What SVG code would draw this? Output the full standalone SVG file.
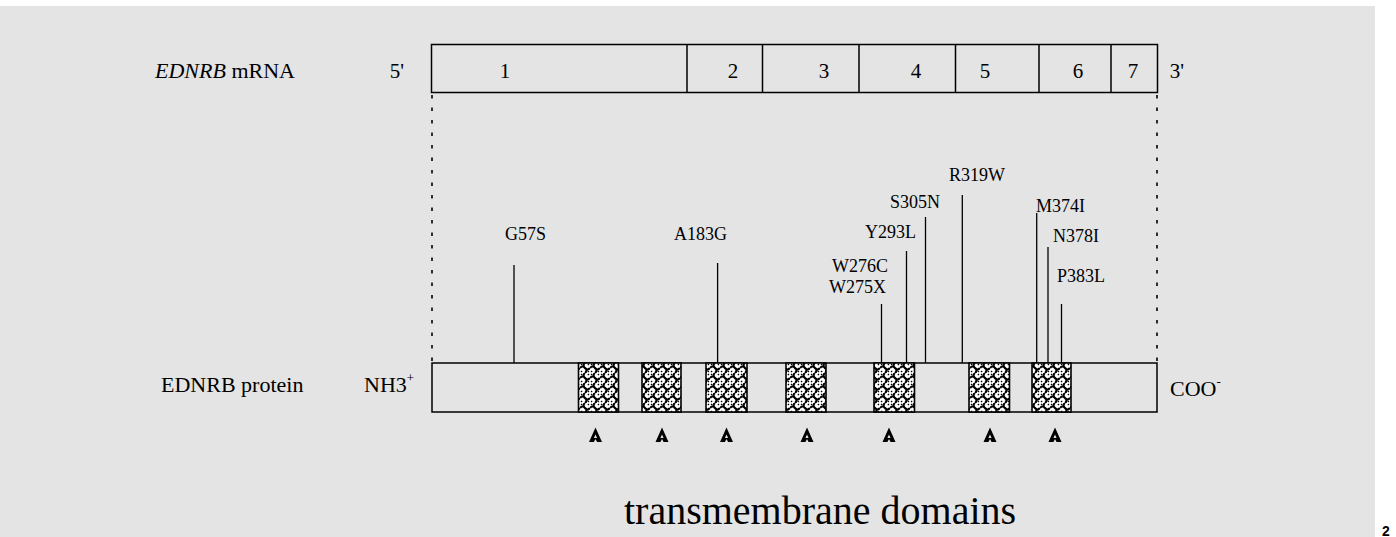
<svg xmlns="http://www.w3.org/2000/svg" width="1396" height="537" viewBox="0 0 1396 537">
<style>
.t{font-family:"Liberation Serif","Times New Roman",serif;fill:#000}
.lab{font-size:22px}
.ex{font-size:21px;text-anchor:middle}
.mut{font-size:18px}
.box{fill:none;stroke:#000;stroke-width:1.5}
.tm{fill:url(#hatch);stroke:#000;stroke-width:1.6}
.dot{stroke:#000;stroke-width:1.6;stroke-dasharray:3.5 9;fill:none}
.pin{stroke:#000;stroke-width:1.3}
</style>
<defs>
<pattern id="hatch" patternUnits="userSpaceOnUse" width="10" height="10" x="0" y="3">
<rect width="10" height="10" fill="#fff"/>
<path d="M0,5 Q2.5,2 5,5 T10,5 M5,0 Q2,2.5 5,5 T5,10" fill="none" stroke="#000" stroke-width="2.2"/>
<path d="M1,1 L2.2,2.2 M9,9 L7.8,7.8 M9,1 L7.8,2.2 M1,9 L2.2,7.8" stroke="#000" stroke-width="1.2"/>
</pattern>
<path id="arrow" d="M0,-7.5 L6.5,7 L1.6,7 L0,4 L-1.6,7 L-6.5,7 Z M0,-0.5 L1.6,3 L-1.6,3 Z" fill="#000" fill-rule="evenodd"/>
</defs>
<rect x="0" y="6" width="1375" height="531" fill="#e4e4e4"/>

<g id="mrna-label">
<text class="t lab" x="155" y="78"><tspan font-style="italic">EDNRB</tspan> mRNA</text>
<text class="t ex" x="397" y="78">5'</text>
<text class="t ex" x="1177" y="78">3'</text>
</g>

<g id="mrna">
<rect class="box" x="431.5" y="44.5" width="726" height="48"/>
<path d="M687,44.5V92.5 M762.5,44.5V92.5 M859,44.5V92.5 M955.5,44.5V92.5 M1039,44.5V92.5 M1111,44.5V92.5" stroke="#000" stroke-width="1.5"/>
<text class="t ex" x="505" y="78">1</text>
<text class="t ex" x="733" y="78">2</text>
<text class="t ex" x="824" y="78">3</text>
<text class="t ex" x="916" y="78">4</text>
<text class="t ex" x="985" y="78">5</text>
<text class="t ex" x="1078" y="78">6</text>
<text class="t ex" x="1133" y="78">7</text>
</g>

<g id="protein-label">
<text class="t lab" x="161" y="392">EDNRB protein</text>
<text class="t lab" x="364" y="392">NH3<tspan font-size="13" dy="-10">+</tspan></text>
<text class="t lab" x="1170" y="396">COO<tspan font-size="13" dy="-10">-</tspan></text>
</g>

<g id="protein">
<rect class="box" x="432" y="363" width="725" height="49"/>
<rect class="tm" x="578.5" y="363" width="40" height="49"/>
<rect class="tm" x="642" y="363" width="39" height="49"/>
<rect class="tm" x="706" y="363" width="41" height="49"/>
<rect class="tm" x="786" y="363" width="40" height="49"/>
<rect class="tm" x="874" y="363" width="40.5" height="49"/>
<rect class="tm" x="969" y="363" width="40.5" height="49"/>
<rect class="tm" x="1032" y="363" width="39" height="49"/>
</g>

<g id="tm-markers">
<use href="#arrow" x="595.5" y="435"/>
<use href="#arrow" x="662" y="435"/>
<use href="#arrow" x="726.5" y="435"/>
<use href="#arrow" x="807" y="435"/>
<use href="#arrow" x="889" y="435"/>
<use href="#arrow" x="990" y="435"/>
<use href="#arrow" x="1055" y="435"/>
</g>

<g id="mutations">
<text class="t mut" x="505" y="240">G57S</text>
<text class="t mut" x="674" y="240">A183G</text>
<text class="t mut" x="832" y="272">W276C</text>
<text class="t mut" x="829" y="293">W275X</text>
<text class="t mut" x="865" y="238">Y293L</text>
<text class="t mut" x="890" y="208">S305N</text>
<text class="t mut" x="949" y="181">R319W</text>
<text class="t mut" x="1036" y="212">M374I</text>
<text class="t mut" x="1053" y="242">N378I</text>
<text class="t mut" x="1057" y="282">P383L</text>
</g>

<g id="connectors">
<line class="dot" x1="432" y1="95" x2="432" y2="362"/>
<line class="dot" x1="1157" y1="95" x2="1157" y2="362"/>
<line class="pin" x1="514" y1="265" x2="514" y2="363"/>
<line class="pin" x1="717.6" y1="263" x2="717.6" y2="363"/>
<line class="pin" x1="881.5" y1="304" x2="881.5" y2="363"/>
<line class="pin" x1="906.5" y1="251" x2="906.5" y2="363"/>
<line class="pin" x1="925.5" y1="217" x2="925.5" y2="363"/>
<line class="pin" x1="962.3" y1="195" x2="962.3" y2="363"/>
<line class="pin" x1="1036.7" y1="213" x2="1036.7" y2="363"/>
<line class="pin" x1="1048" y1="247" x2="1048" y2="363"/>
<line class="pin" x1="1061.5" y1="304" x2="1061.5" y2="363"/>
</g>

<g id="caption">
<text class="t" x="624" y="524" font-size="40">transmembrane domains</text>
</g>
<text x="1382" y="536" font-family="Liberation Sans, Arial, sans-serif" font-weight="bold" font-size="14">2</text>
</svg>
